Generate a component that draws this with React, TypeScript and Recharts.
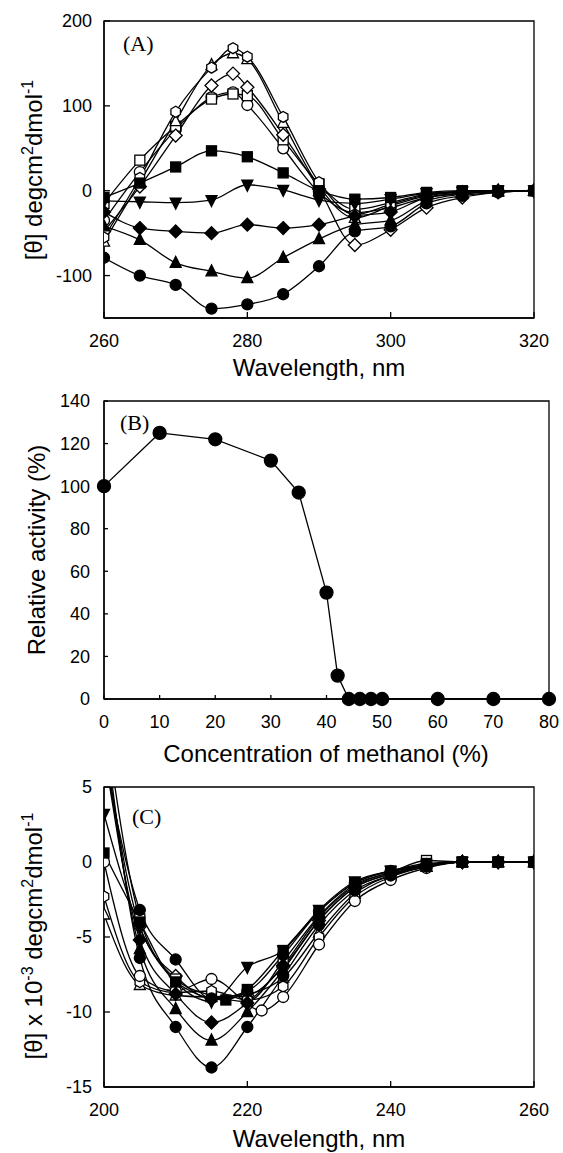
import { LineChart, Line, XAxis, YAxis, ReferenceArea } from 'recharts'

// ---- panel A: near-UV CD spectra ----
const waveA = [260, 265, 270, 275, 280, 285, 290, 295, 300, 305, 310, 315, 320]
const waveAPeak = [260, 265, 270, 275, 278, 280, 285, 290, 295, 300, 305, 310, 315, 320]
const aOpenHex = [-55, 15, 93, 145, 168, 158, 87, 10, -28, -16, -5, -1, 0, 0]
const aOpenTriangle = [-60, 10, 82, 148, 162, 155, 80, 5, -32, -18, -6, -2, 0, 0]
const aOpenDiamond = [-48, 5, 65, 124, 138, 122, 66, 2, -64, -46, -20, -8, -2, 0]
const aOpenSquare = [-15, 36, 76, 108, 114, 112, 60, 8, -22, -14, -4, -1, 0, 0]
const aOpenCircle = [-35, 22, 72, 110, 116, 101, 50, -2, -26, -20, -8, -3, -1, 0]
const aFilledSquare = [-8, 9, 28, 47, 40, 21, 0, -10, -8, -2, 0, 0, 0]
const aFilledDownTri = [-12, -13, -14, -11, 7, 1, -11, -15, -10, -3, -1, 0, 0]
const aFilledDiamond = [-25, -44, -48, -50, -40, -44, -40, -30, -25, -8, -3, 0, 0]
const aFilledTriangle = [-42, -58, -85, -95, -103, -79, -57, -40, -35, -12, -4, -1, 0]
const aFilledCircle = [-79, -100, -111, -139, -134, -122, -89, -48, -42, -15, -6, -2, 0]
const aXTicks = [260, 280, 300, 320]
const aYTicks = [-100, 0, 100, 200]

// ---- panel B: activity vs methanol ----
const methanol = [0, 10, 20, 30, 35, 40, 42, 44, 46, 48, 50, 60, 70, 80]
const activity = [100, 125, 122, 112, 97, 50, 11, 0, 0, 0, 0, 0, 0, 0]
const bXTicks = [0, 10, 20, 30, 40, 50, 60, 70, 80]
const bYTicks = [0, 20, 40, 60, 80, 100, 120, 140]

// ---- panel C: far-UV CD spectra ----
const waveC = [200, 205, 210, 215, 220, 225, 230, 235, 240, 245, 250, 255, 260]
const waveCSquare = [200, 205, 210, 217, 220, 225, 230, 235, 240, 245, 250, 255, 260]
const waveCCircle = [200, 205, 210, 215, 222, 225, 230, 235, 240, 245, 250, 255, 260]
const cFilledCircleDeep = [9.5, -6.4, -11.0, -13.7, -11.0, -7.6, -4.2, -1.9, -0.9, -0.3, 0, 0, 0]
const cFilledTriangle = [8.5, -5.8, -9.8, -11.9, -10.0, -7.2, -3.9, -1.7, -0.8, -0.3, 0, 0, 0]
const cFilledDiamond = [7.5, -5.2, -8.8, -10.7, -9.4, -6.9, -3.7, -1.6, -0.7, -0.2, 0, 0, 0]
const cFilledCircle = [7.0, -3.2, -6.5, -9.1, -8.6, -6.2, -3.3, -1.4, -0.6, -0.2, 0, 0, 0]
const cFilledDownTri = [3.2, -4.4, -8.0, -9.3, -7.0, -5.9, -3.2, -1.3, -0.6, -0.2, 0, 0, 0]
const cFilledSquare = [0.6, -4.0, -8.0, -9.2, -8.5, -5.9, -3.3, -1.4, -0.6, -0.1, 0, 0, 0]
const cOpenCircle = [0, -7.6, -8.6, -7.8, -9.9, -9.0, -5.5, -2.6, -1.2, -0.4, 0, 0, 0]
const cOpenHex = [-2.3, -8.0, -8.7, -8.6, -9.2, -8.3, -5.0, -2.3, -1.0, -0.3, 0, 0, 0]
const cOpenTriangle = [-3.5, -8.2, -8.9, -9.0, -8.8, -7.7, -4.7, -2.1, -0.9, -0.3, 0, 0, 0]
const cOpenSquare = [10, -3.8, -7.8, -8.9, -9.3, -6.6, -3.6, -1.5, -0.7, 0.1, 0, 0, 0]
const cOpenDiamond = [8, -4.3, -7.6, -9.1, -8.9, -7.0, -3.9, -1.7, -0.8, -0.2, 0, 0, 0]
const cXTicks = [200, 220, 240, 260]
const cYTicks = [-15, -10, -5, 0, 5]

const sans = '"Liberation Sans", Arial, Helvetica, sans-serif'
const serif = '"Liberation Serif", "Times New Roman", serif'

type Shape = 'circle' | 'square' | 'diamond' | 'triangle' | 'triangleDown' | 'hexagon'

const pts = (xs: number[], ys: number[]) => xs.map((x, i) => ({ x, y: ys[i] }))

const seriesA = [
  { name: 'aOpenCircle', data: pts(waveAPeak, aOpenCircle), shape: 'circle', filled: false },
  { name: 'aOpenSquare', data: pts(waveAPeak, aOpenSquare), shape: 'square', filled: false },
  { name: 'aOpenDiamond', data: pts(waveAPeak, aOpenDiamond), shape: 'diamond', filled: false },
  { name: 'aOpenTriangle', data: pts(waveAPeak, aOpenTriangle), shape: 'triangle', filled: false },
  { name: 'aOpenHex', data: pts(waveAPeak, aOpenHex), shape: 'hexagon', filled: false },
  { name: 'aFilledSquare', data: pts(waveA, aFilledSquare), shape: 'square', filled: true },
  { name: 'aFilledDownTri', data: pts(waveA, aFilledDownTri), shape: 'triangleDown', filled: true },
  { name: 'aFilledDiamond', data: pts(waveA, aFilledDiamond), shape: 'diamond', filled: true },
  { name: 'aFilledTriangle', data: pts(waveA, aFilledTriangle), shape: 'triangle', filled: true },
  { name: 'aFilledCircle', data: pts(waveA, aFilledCircle), shape: 'circle', filled: true },
]

const seriesC = [
  { name: 'cOpenDiamond', data: pts(waveC, cOpenDiamond), shape: 'diamond', filled: false },
  { name: 'cOpenSquare', data: pts(waveC, cOpenSquare), shape: 'square', filled: false },
  { name: 'cOpenTriangle', data: pts(waveC, cOpenTriangle), shape: 'triangle', filled: false },
  { name: 'cOpenHex', data: pts(waveC, cOpenHex), shape: 'hexagon', filled: false },
  { name: 'cOpenCircle', data: pts(waveCCircle, cOpenCircle), shape: 'circle', filled: false },
  { name: 'cFilledSquare', data: pts(waveCSquare, cFilledSquare), shape: 'square', filled: true },
  { name: 'cFilledDownTri', data: pts(waveC, cFilledDownTri), shape: 'triangleDown', filled: true },
  { name: 'cFilledCircle', data: pts(waveC, cFilledCircle), shape: 'circle', filled: true },
  { name: 'cFilledDiamond', data: pts(waveC, cFilledDiamond), shape: 'diamond', filled: true },
  { name: 'cFilledTriangle', data: pts(waveC, cFilledTriangle), shape: 'triangle', filled: true },
  { name: 'cFilledCircleDeep', data: pts(waveC, cFilledCircleDeep), shape: 'circle', filled: true },
]

const bData = pts(methanol, activity)

function Marker({ cx, cy, shape, filled, r = 5.5 }: { cx?: number; cy?: number; shape: Shape; filled: boolean; r?: number }) {
  if (cx == null || cy == null || isNaN(cx) || isNaN(cy)) return null
  const p = { fill: filled ? '#000' : '#fff', stroke: '#000', strokeWidth: 1.3 }
  switch (shape) {
    case 'square':
      return <rect x={cx - r + 0.5} y={cy - r + 0.5} width={2 * r - 1} height={2 * r - 1} {...p} />
    case 'diamond':
      return <polygon points={`${cx},${cy - r - 1} ${cx + r + 1},${cy} ${cx},${cy + r + 1} ${cx - r - 1},${cy}`} {...p} />
    case 'triangle':
      return <polygon points={`${cx},${cy - r - 1} ${cx + r},${cy + r - 1} ${cx - r},${cy + r - 1}`} {...p} />
    case 'triangleDown':
      return <polygon points={`${cx},${cy + r + 1} ${cx + r},${cy - r + 1} ${cx - r},${cy - r + 1}`} {...p} />
    case 'hexagon': {
      const v = [0, 1, 2, 3, 4, 5].map((k) => {
        const a = (Math.PI / 3) * k + Math.PI / 6
        return `${cx + r * Math.cos(a)},${cy + r * Math.sin(a)}`
      })
      return <polygon points={v.join(' ')} {...p} />
    }
    default:
      return <circle cx={cx} cy={cy} r={r} {...p} />
  }
}

const tickStyle = { fill: '#000', fontSize: 18, fontFamily: sans }
const axisStroke = { stroke: '#000', strokeWidth: 1.3 }
const titleSize = 24

function renderSeries(list: any[]) {
  return list.map((s) => (
    <Line
      key={s.name}
      data={s.data}
      dataKey="y"
      type="monotone"
      stroke="#000"
      strokeWidth={1.3}
      isAnimationActive={false}
      activeDot={false}
      dot={(d: any) => <Marker key={`${s.name}-${d.index}`} cx={d.cx} cy={d.cy} shape={s.shape} filled={s.filled} />}
    />
  ))
}

export default function App() {
  return (
    <div style={{ position: 'absolute', left: 0, top: 0, width: 563, height: 1153, background: '#fff' }}>
      {/* (A) */}
      <div style={{ position: 'absolute', left: 0, top: 0 }}>
        <LineChart width={563} height={380} margin={{ top: 21, right: 29, left: 0, bottom: 0 }}>
          <XAxis type="number" dataKey="x" domain={[260, 320]} ticks={aXTicks} allowDataOverflow
            height={62} tick={tickStyle} tickSize={-6} tickMargin={22} axisLine={axisStroke} tickLine={axisStroke} />
          <YAxis type="number" domain={[-150, 200]} ticks={aYTicks} allowDataOverflow
            width={104} tick={tickStyle} tickSize={-6} tickMargin={18} axisLine={axisStroke} tickLine={axisStroke} />
          <ReferenceArea x1={260} x2={320} y1={-150} y2={200} fill="none" stroke="#000" strokeWidth={1.3} />
          {renderSeries(seriesA)}
          <text x={123} y={51} fontFamily={serif} fontSize={22}>(A)</text>
          <text x={42} y={170} transform="rotate(-90 42 170)" textAnchor="middle" fontFamily={sans} fontSize={titleSize}>
            [θ] degcm<tspan dy={-9} fontSize={16}>2</tspan><tspan dy={9}>dmol</tspan><tspan dy={-9} fontSize={16}>-1</tspan>
          </text>
          <text x={319} y={376} textAnchor="middle" fontFamily={sans} fontSize={titleSize}>Wavelength, nm</text>
        </LineChart>
      </div>

      {/* (B) */}
      <div style={{ position: 'absolute', left: 0, top: 380 }}>
        <LineChart width={563} height={395} margin={{ top: 21, right: 14, left: 0, bottom: 0 }}>
          <XAxis type="number" dataKey="x" domain={[0, 80]} ticks={bXTicks}
            height={76} tick={tickStyle} tickSize={-4} tickMargin={20} axisLine={axisStroke} tickLine={axisStroke} />
          <YAxis type="number" domain={[0, 140]} ticks={bYTicks}
            width={104} tick={tickStyle} tickSize={-4} tickMargin={18} axisLine={axisStroke} tickLine={axisStroke} />
          <ReferenceArea x1={0} x2={80} y1={0} y2={140} fill="none" stroke="#000" strokeWidth={1.3} />
          <Line
            data={bData}
            dataKey="y"
            type="linear"
            stroke="#000"
            strokeWidth={1.3}
            isAnimationActive={false}
            activeDot={false}
            dot={(d: any) => <Marker key={`b-${d.index}`} cx={d.cx} cy={d.cy} shape="circle" filled r={6.5} />}
          />
          <text x={120} y={50} fontFamily={serif} fontSize={22}>(B)</text>
          <text x={45} y={170} transform="rotate(-90 45 170)" textAnchor="middle" fontFamily={sans} fontSize={titleSize}>
            Relative activity (%)
          </text>
          <text x={326} y={382} textAnchor="middle" fontFamily={sans} fontSize={titleSize}>Concentration of methanol (%)</text>
        </LineChart>
      </div>

      {/* (C) */}
      <div style={{ position: 'absolute', left: 0, top: 775 }}>
        <LineChart width={563} height={378} margin={{ top: 12, right: 29, left: 0, bottom: 0 }}>
          <XAxis type="number" dataKey="x" domain={[200, 260]} ticks={cXTicks} allowDataOverflow
            height={66} tick={tickStyle} tickSize={-6} tickMargin={22} axisLine={axisStroke} tickLine={axisStroke} />
          <YAxis type="number" domain={[-15, 5]} ticks={cYTicks} allowDataOverflow
            width={104} tick={tickStyle} tickSize={-6} tickMargin={18} axisLine={axisStroke} tickLine={axisStroke} />
          <ReferenceArea x1={200} x2={260} y1={-15} y2={5} fill="none" stroke="#000" strokeWidth={1.3} />
          {renderSeries(seriesC)}
          <text x={132} y={49} fontFamily={serif} fontSize={22}>(C)</text>
          <text x={42} y={161} transform="rotate(-90 42 161)" textAnchor="middle" fontFamily={sans} fontSize={titleSize}>
            [θ] x 10<tspan dy={-9} fontSize={16}>-3</tspan><tspan dy={9}> degcm</tspan><tspan dy={-9} fontSize={16}>2</tspan><tspan dy={9}>dmol</tspan><tspan dy={-9} fontSize={16}>-1</tspan>
          </text>
          <text x={319} y={372} textAnchor="middle" fontFamily={sans} fontSize={titleSize}>Wavelength, nm</text>
        </LineChart>
      </div>
    </div>
  )
}
